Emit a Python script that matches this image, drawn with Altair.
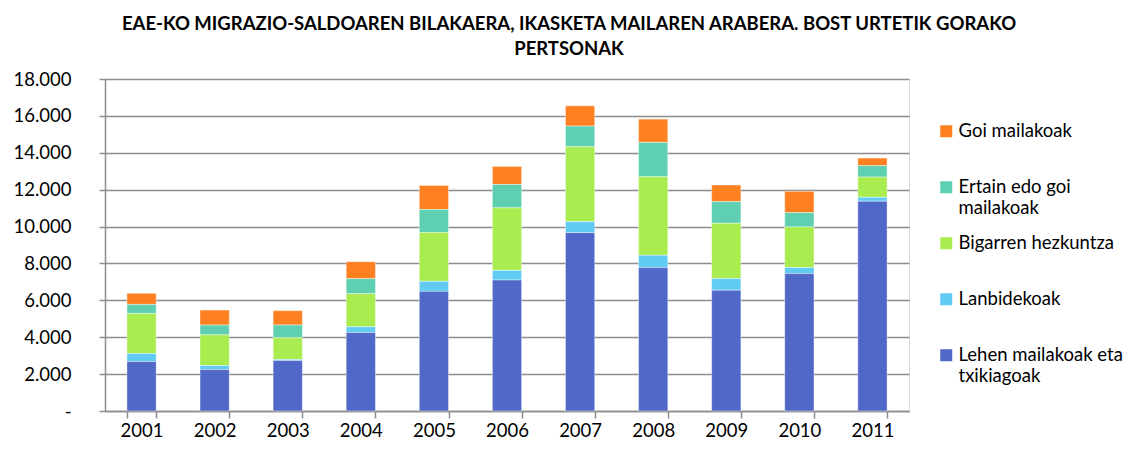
import altair as alt
import pandas as pd

years = ["2001", "2002", "2003", "2004", "2005", "2006", "2007", "2008", "2009", "2010", "2011"]
lehen = [2680, 2245, 2734, 4255, 6486, 7100, 9670, 7775, 6551, 7450, 11370]
lanbide = [435, 217, 60, 310, 544, 525, 595, 671, 629, 325, 216]
bigarren = [2175, 1668, 1179, 1794, 2644, 3390, 4061, 4256, 2999, 2204, 1099]
ertain = [490, 528, 691, 815, 1250, 1265, 1121, 1862, 1169, 774, 614]
goi = [600, 815, 777, 923, 1304, 980, 1099, 1262, 904, 1158, 415]

series_names = ["Goi mailakoak", "Ertain edo goi mailakoak", "Bigarren hezkuntza",
                "Lanbidekoak", "Lehen mailakoak eta txikiagoak"]
series_vals = [goi, ertain, bigarren, lanbide, lehen]
colors = ["#FF8020", "#5ECFB0", "#A8EC50", "#60CCF4", "#5068C8"]

rows = []
for si, (name, vals) in enumerate(zip(series_names, series_vals)):
    for y, v in zip(years, vals):
        rows.append({"urtea": y, "maila": name, "balioa": v, "ordena": len(series_names) - si})
df = pd.DataFrame(rows)

FONT = "Lato"
AX = 18.5

legend_expr = (
    "datum.label == 'Ertain edo goi mailakoak' ? ['Ertain edo goi', 'mailakoak'] : "
    "datum.label == 'Lehen mailakoak eta txikiagoak' ? ['Lehen mailakoak eta', 'txikiagoak'] : "
    "[datum.label]"
)

chart = alt.Chart(df).mark_bar(stroke="#ffffff", strokeOpacity=0.5, strokeWidth=0.8).encode(
    x=alt.X("urtea:N", title=None, sort=years,
            scale=alt.Scale(paddingInner=0.6, paddingOuter=0.3),
            axis=alt.Axis(labelAngle=0, tickBand="extent", tickSize=7, tickColor="#8c8c8c",
                          tickWidth=1.5, domainColor="#8c8c8c", domainWidth=1.5,
                          labelFontSize=AX, labelFont=FONT, labelColor="#000000",
                          labelPadding=3, grid=False)),
    y=alt.Y("balioa:Q", title=None, stack="zero",
            scale=alt.Scale(domain=[0, 18000]),
            axis=alt.Axis(values=list(range(0, 18001, 2000)),
                          labelExpr="datum.value == 0 ? '-' : replace(format(datum.value, ','), ',', '.')",
                          labelFontSize=AX, labelFont=FONT, labelColor="#000000",
                          labelPadding=28, tickSize=6, tickColor="#8c8c8c", tickWidth=1.5,
                          domainColor="#8c8c8c", domainWidth=1.5,
                          gridColor="#8c8c8c", gridWidth=1.5)),
    color=alt.Color("maila:N", sort=series_names,
                    scale=alt.Scale(domain=series_names, range=colors),
                    legend=alt.Legend(title=None, orient="none", legendX=832, legendY=43,
                                      symbolType="square", symbolSize=144, symbolStrokeWidth=0,
                                      labelFont=FONT, labelFontSize=18.5, labelColor="#000000",
                                      labelExpr=legend_expr,
                                      labelBaseline="middle", labelLimit=300, gridAlign="all",
                                      rowPadding=16, labelOffset=3)),
    order=alt.Order("ordena:Q", sort="ascending"),
).properties(
    width=804, height=332,
    title=alt.TitleParams(
        text=["EAE-KO MIGRAZIO-SALDOAREN BILAKAERA, IKASKETA MAILAREN ARABERA. BOST URTETIK GORAKO",
              "PERTSONAK"],
        font=FONT, fontSize=18.5, fontWeight="bold", color="#000000",
        anchor="middle", dx=62, offset=12, lineHeight=25),
    autosize=alt.AutoSizeParams(type="none"),
    padding={"left": 97, "top": 71, "right": 216, "bottom": 29},
).configure_view(stroke=None).configure(font=FONT)

chart.save("out.html", embed_options={"renderer": "svg", "actions": False})
